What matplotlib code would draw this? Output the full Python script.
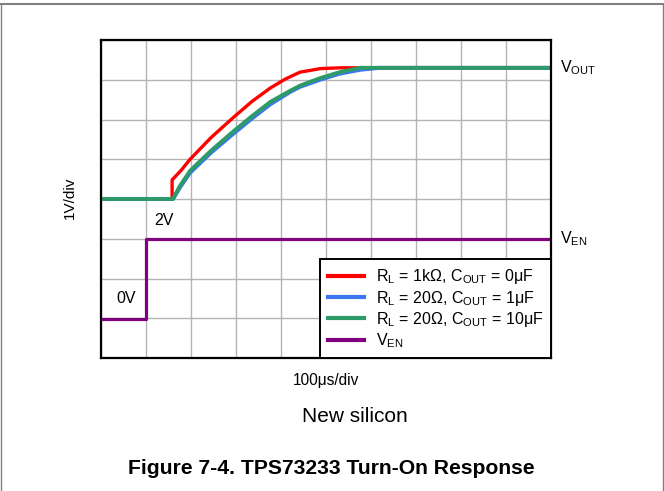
import numpy as np
import matplotlib
matplotlib.use("Agg")
from matplotlib import pyplot as plt
from matplotlib.lines import Line2D

plt.rcParams['font.family'] = ['Liberation Sans', 'DejaVu Sans']
plt.rcParams['mathtext.fontset'] = 'custom'
plt.rcParams['mathtext.rm'] = 'Liberation Sans'
plt.rcParams['mathtext.it'] = 'Liberation Sans'

# time in divisions (100us/div), voltage in divisions (1V/div)
t_red = [0, 1.58, 1.58, 1.78, 1.98, 2.45, 2.93, 3.35, 3.76, 4.1, 4.42, 4.87, 5.3, 10]
v_red = [4.0, 4.0, 4.48, 4.72, 5.0, 5.55, 6.04, 6.45, 6.79, 7.02, 7.19, 7.28, 7.3, 7.3]

t_blue = [0, 1.6, 1.75, 1.98, 2.45, 2.93, 3.35, 3.76, 4.2, 4.42, 4.87, 5.3, 5.76, 6.2, 10]
v_blue = [4.0, 4.0, 4.28, 4.66, 5.17, 5.63, 6.02, 6.38, 6.69, 6.82, 7.0, 7.15, 7.25, 7.3, 7.3]

t_green = [0, 1.6, 1.75, 1.98, 2.45, 2.93, 3.35, 3.76, 4.2, 4.42, 4.87, 5.3, 5.76, 10]
v_green = [4.0, 4.0, 4.32, 4.71, 5.22, 5.69, 6.08, 6.44, 6.72, 6.85, 7.04, 7.19, 7.3, 7.3]

t_en = [0, 1.0, 1.0, 10]
v_en = [0.98, 0.98, 3.0, 3.0]

labels = ["R$_\\mathrm{L}$ = 1k\u03a9, C$_\\mathrm{OUT}$ = 0\u03bcF",
          "R$_\\mathrm{L}$ = 20\u03a9, C$_\\mathrm{OUT}$ = 1\u03bcF",
          "R$_\\mathrm{L}$ = 20\u03a9, C$_\\mathrm{OUT}$ = 10\u03bcF",
          "V$_\\mathrm{EN}$"]
colors = ['#ff0000', '#3b78f0', '#2e9a68', '#800080']

fig = plt.figure(figsize=(6.64, 4.91), dpi=100)
ax = fig.add_axes([101/664, 133/491, 450/664, 318/491])

ax.plot(t_en, v_en, color=colors[3], lw=2.3)
ax.plot(t_red, v_red, color=colors[0], lw=2.4)
ax.plot(t_blue, v_blue, color=colors[1], lw=2.8)
ax.plot(t_green, v_green, color=colors[2], lw=2.8)

ax.set_xlim(0, 10)
ax.set_ylim(0, 8)
ax.set_xticks(np.arange(0, 11, 1))
ax.set_yticks(np.arange(0, 9, 1))
ax.grid(True, color='#b4b4b4', lw=1)
ax.tick_params(length=0, labelbottom=False, labelleft=False)
for s in ax.spines.values():
    s.set_linewidth(1.6)
    s.set_color('black')

ax.text(1.4, 3.45, "2V", fontsize=11.5, ha='center', va='center')
ax.text(0.55, 1.5, "0V", fontsize=11.5, ha='center', va='center')
ax.text(10.2, 7.3, "V$_\\mathrm{OUT}$", fontsize=11.5, ha='left', va='center', clip_on=False)
ax.text(10.2, 3.0, "V$_\\mathrm{EN}$", fontsize=11.5, ha='left', va='center', clip_on=False)

handles = [Line2D([], [], color=c, lw=3) for c in colors]
leg = ax.legend(handles, labels, loc='lower right', fontsize=11.5, fancybox=False,
                framealpha=1, edgecolor='black', borderaxespad=0, handlelength=2.3,
                labelspacing=0.15, borderpad=0.5, handletextpad=0.7)
leg.get_frame().set_linewidth(1.4)

fig.text(70/664, 1 - 198/491, "1V/div", rotation=90, fontsize=11, ha='center', va='center')
fig.text(326/664, 1 - 380/491, "100\u03bcs/div", fontsize=11.2, ha='center', va='center')
fig.text(355/664, 1 - 417/491, "New silicon", fontsize=15, ha='center', va='center')
fig.text(331/664, 1 - 468/491, "Figure 7-4. TPS73233 Turn-On Response", fontsize=15.2,
         fontweight='bold', ha='center', va='center')

# page frame
fig.add_artist(Line2D([0, 1], [1 - 4/491, 1 - 4/491], color='#808080', lw=1.5))
fig.add_artist(Line2D([0.5/664, 0.5/664], [0, 1 - 4/491], color='#808080', lw=1))
fig.add_artist(Line2D([662.5/664, 662.5/664], [0, 1 - 4/491], color='#808080', lw=1))

fig.savefig("out.png", dpi=100)
